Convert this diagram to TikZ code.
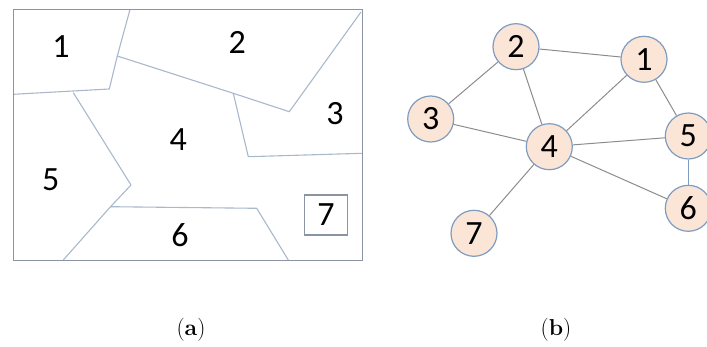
\documentclass[tikz,border=0pt]{standalone}
\usepackage{fontspec}
\newfontfamily\digitfont{Carlito}
\definecolor{regionline}{HTML}{A9B8CB}
\definecolor{frameline}{HTML}{8A94A2}
\definecolor{nodefill}{HTML}{FBE5D6}
\definecolor{nodeline}{HTML}{7E9CC0}
\definecolor{edgeline}{HTML}{8C8C8C}
\tikzset{
  region/.style={draw=regionline, line width=1.1pt, line join=round},
  label/.style={font=\digitfont\fontsize{34}{34}\selectfont, inner sep=0pt},
  vertex/.style={circle, draw=nodeline, fill=nodefill, line width=1.2pt,
    minimum size=46pt, inner sep=0pt, font=\digitfont\fontsize{34}{34}\selectfont},
  edge/.style={draw=edgeline, line width=1pt},
  caption/.style={font=\fontsize{23}{23}\selectfont, inner sep=0pt}
}
\begin{document}
\begin{tikzpicture}[x=1pt, y=-1pt]
\useasboundingbox (0,0) rectangle (707,347);

% (a) map of regions
\draw[region] (130,9.5) -- (117.3,56) -- (109.3,89) -- (13.3,94.3);
\draw[region] (117.3,56) -- (233.3,93.3) -- (289.3,111.7) -- (361,12);
\draw[region] (233.3,93.3) -- (248.3,156.7) -- (362.3,153.3);
\draw[region] (73.3,92.7) -- (131,185) -- (110,207.3) -- (63.3,260);
\draw[region] (110,206.7) -- (256.7,208.3) -- (288.3,260);
\draw[draw=frameline, line width=1.6pt] (13.3,9.5) rectangle (362.3,260.5);
\node[draw=frameline, line width=1.4pt, minimum width=43pt, minimum height=40pt] (r7box) at (325.7,215) {};

\node[label] (r1) at (61,46.7) {1};
\node[label] (r2) at (237.3,42.7) {2};
\node[label] (r3) at (335,113.3) {3};
\node[label] (r4) at (178.3,139.3) {4};
\node[label] (r5) at (50.7,180) {5};
\node[label] (r6) at (180,235) {6};
\node[label] (r7) at (326,215) {7};

% (b) adjacency graph
\node[vertex] (n2) at (516,46.7) {2};
\node[vertex] (n1) at (644,59.3) {1};
\node[vertex] (n3) at (430.7,119) {3};
\node[vertex] (n4) at (549.3,146.7) {4};
\node[vertex] (n5) at (688.3,136) {5};
\node[vertex] (n6) at (688.3,208.3) {6};
\node[vertex] (n7) at (474,233.3) {7};

\draw[edge] (n2) -- (n1);
\draw[edge] (n2) -- (n3);
\draw[edge] (n2) -- (n4);
\draw[edge] (n3) -- (n4);
\draw[edge] (n1) -- (n4);
\draw[edge] (n1) -- (n5);
\draw[edge] (n4) -- (n5);
\draw[edge] (n4) -- (n6);
\draw[edge] (n4) -- (n7);
\draw[draw=nodeline, line width=1pt] (n5) -- (n6);

% captions
\node[caption] (capa) at (191,330) {(\textbf{a})};
\node[caption] (capb) at (556,330) {(\textbf{b})};
\end{tikzpicture}
\end{document}
